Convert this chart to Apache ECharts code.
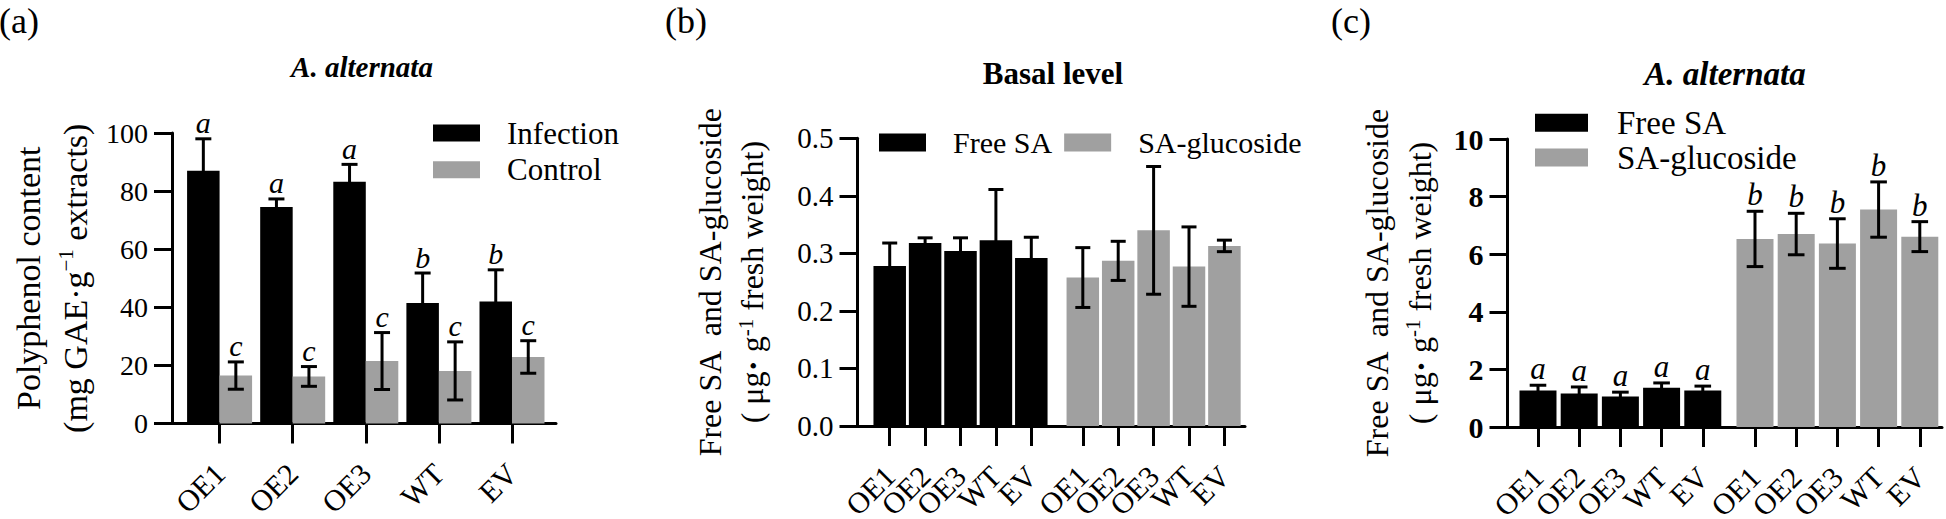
<!DOCTYPE html>
<html><head><meta charset="utf-8">
<script src="https://cdn.jsdelivr.net/npm/echarts@6/dist/echarts.min.js"></script>
<style>html,body{margin:0;padding:0;background:#fff}#c{width:1946px;height:519px}</style>
</head><body><div id="c"></div>
<script>
// ---------------- data ----------------
const categories = ['OE1', 'OE2', 'OE3', 'WT', 'EV'];

// Panel (a) polyphenol content
const aInfection    = [87.0, 74.5, 83.2, 41.5, 42.0];
const aInfectionErr = [11.0, 2.8, 6.0, 10.3, 10.9];
const aInfectionSig = ['a', 'a', 'a', 'b', 'b'];
const aControl      = [16.5, 16.2, 21.5, 18.1, 22.9];
const aControlErr   = [4.7, 3.4, 9.8, 10.0, 5.6];
const aControlSig   = ['c', 'c', 'c', 'c', 'c'];
const aYTicks = [0, 20, 40, 60, 80, 100];

// Panel (b) basal level
const bFree       = [0.278, 0.318, 0.304, 0.323, 0.292];
const bFreeErr    = [0.040, 0.009, 0.023, 0.088, 0.036];
const bGluc       = [0.258, 0.287, 0.340, 0.277, 0.313];
const bGlucErr    = [0.052, 0.034, 0.111, 0.069, 0.010];
const bYTicks = [0.0, 0.1, 0.2, 0.3, 0.4, 0.5];

// Panel (c) A. alternata
const cFree       = [1.27, 1.16, 1.06, 1.36, 1.27];
const cFreeErr    = [0.18, 0.23, 0.15, 0.17, 0.15];
const cFreeSig    = ['a', 'a', 'a', 'a', 'a'];
const cGluc       = [6.53, 6.70, 6.37, 7.55, 6.61];
const cGlucErr    = [0.96, 0.72, 0.86, 0.96, 0.52];
const cGlucSig    = ['b', 'b', 'b', 'b', 'b'];
const cYTicks = [0, 2, 4, 6, 8, 10];

// ---------------- layout constants (in category-slot units) ----------------
const FONT = "'Liberation Serif', 'Times New Roman', serif";
const LEAD_A = 0.651, SPAN_A = 5.253;
const LEAD_B = 0.910, SPAN_B = 10.947, GROUP_OFFSET_B = 5.455;
const LEAD_C = 0.740, SPAN_C = 10.546, GROUP_OFFSET_C = 5.267;

const idx = categories.map((_, i) => i);
const aPos = idx.map(i => LEAD_A + i);
const bFreePos = idx.map(i => LEAD_B + i);
const bGlucPos = idx.map(i => LEAD_B + GROUP_OFFSET_B + i);
const cFreePos = idx.map(i => LEAD_C + i);
const cGlucPos = idx.map(i => LEAD_C + GROUP_OFFSET_C + i);

function labelFor(positions, labels, v) {
  let best = -1, d = Infinity;
  positions.forEach((a, i) => { const dd = Math.abs(a - v); if (dd < d) { d = dd; best = i; } });
  return d < 1e-6 ? labels[best] : ' ';
}

// the axis ends carry hidden placeholder ticks/labels so that no real label is dropped
function makeX(gridIndex, span, positions, labels) {
  const withEnds = [0].concat(positions, [span]);
  return {
    type: 'value', gridIndex, min: 0, max: span,
    axisLine: { show: true, onZero: false, lineStyle: { color: '#000', width: 3 } },
    axisTick: { show: true, customValues: withEnds, length: 20, lineStyle: { color: '#000', width: 3 } },
    axisLabel: {
      show: true, customValues: withEnds, rotate: 45, margin: 45,
      showMinLabel: false, showMaxLabel: false, hideOverlap: false,
      fontSize: 30, lineHeight: 30, fontFamily: FONT, color: '#000',
      formatter: v => labelFor(positions, labels, v)
    },
    splitLine: { show: false }
  };
}

function makeY(gridIndex, ticks, decimals, bold, labelSize, labelMargin, name, nameSize, nameLH, nameGap, rich) {
  return {
    type: 'value', gridIndex, position: 'left', z: 10,
    min: ticks[0], max: ticks[ticks.length - 1], interval: ticks[1] - ticks[0],
    axisLine: { show: true, onZero: false, lineStyle: { color: '#000', width: 3 } },
    axisTick: { show: true, length: 18, lineStyle: { color: '#000', width: 3 } },
    axisLabel: {
      margin: labelMargin, fontSize: labelSize, fontFamily: FONT, color: '#000',
      fontWeight: bold ? 'bold' : 'normal',
      formatter: v => Number(v).toFixed(decimals)
    },
    splitLine: { show: false },
    name, nameLocation: 'middle', nameRotate: 90, nameGap, nameMoveOverlap: false,
    nameTextStyle: { fontSize: nameSize, lineHeight: nameLH, fontFamily: FONT, color: '#000', rich }
  };
}

function barSeries(name, gi, positions, values, color, width, gap) {
  return {
    type: 'bar', name, xAxisIndex: gi, yAxisIndex: gi,
    data: positions.map((x, i) => [x, values[i]]),
    barWidth: width, barGap: gap,
    itemStyle: { color },
    silent: true, z: 2
  };
}

function errSeries(name, gi, positions, values, errs, sigs, dx, capHalf, sigSize) {
  return {
    type: 'custom', name, xAxisIndex: gi, yAxisIndex: gi, z: 5, silent: true,
    data: positions.map((x, i) => [x, values[i], errs[i]]),
    encode: { x: 0, y: 1 },
    renderItem(params, api) {
      const x = api.value(0), y = api.value(1), e = api.value(2);
      const top = api.coord([x, y + e]);
      const bot = api.coord([x, y - e]);
      const cx = top[0] + dx;
      const lw = 3;
      const fill = { fill: '#000' };
      const children = [
        { type: 'rect', shape: { x: cx - lw / 2, y: top[1], width: lw, height: bot[1] - top[1] }, style: fill },
        { type: 'rect', shape: { x: cx - capHalf, y: top[1] - lw / 2, width: capHalf * 2, height: lw }, style: fill },
        { type: 'rect', shape: { x: cx - capHalf, y: bot[1] - lw / 2, width: capHalf * 2, height: lw }, style: fill }
      ];
      if (sigs) {
        children.push({
          type: 'text',
          style: {
            text: sigs[params.dataIndex], x: cx, y: top[1] - 1,
            align: 'center', verticalAlign: 'bottom',
            fontSize: sigSize, fontStyle: 'italic', fontFamily: FONT, fill: '#000'
          }
        });
      }
      return { type: 'group', children };
    }
  };
}

const BLACK = '#000000';
const GREY = '#a0a0a0';
const supRich = {
  sup: { fontSize: 21, fontFamily: FONT, color: '#000', verticalAlign: 'top', padding: [4, 0, 0, 0] },
  dot: { fontSize: 34, fontFamily: FONT, color: '#000', fontWeight: 'bold' }
};

const option = {
  animation: false,
  backgroundColor: '#fff',
  title: [
    { text: '(a)', left: -1, top: 3, padding: 0, textStyle: { fontFamily: FONT, fontSize: 36, fontWeight: 'normal', color: '#000' } },
    { text: '(b)', left: 665, top: 3, padding: 0, textStyle: { fontFamily: FONT, fontSize: 36, fontWeight: 'normal', color: '#000' } },
    { text: '(c)', left: 1331, top: 3, padding: 0, textStyle: { fontFamily: FONT, fontSize: 36, fontWeight: 'normal', color: '#000' } },
    { text: 'A. alternata', left: 362, top: 52, padding: 0, textAlign: 'center', textStyle: { fontFamily: FONT, fontSize: 29, fontWeight: 'bold', fontStyle: 'italic', color: '#000' } },
    { text: 'Basal level', left: 1053, top: 58, padding: 0, textAlign: 'center', textStyle: { fontFamily: FONT, fontSize: 31, fontWeight: 'bold', color: '#000' } },
    { text: 'A. alternata', left: 1725, top: 57, padding: 0, textAlign: 'center', textStyle: { fontFamily: FONT, fontSize: 33, fontWeight: 'bold', fontStyle: 'italic', color: '#000' } }
  ],
  legend: [
    {
      data: ['Infection', 'Control'], orient: 'vertical', left: 433, top: 117.5, padding: 0,
      itemWidth: 47, itemHeight: 17, itemGap: 5.7, icon: 'rect', selectedMode: false,
      textStyle: { fontFamily: FONT, fontSize: 31, lineHeight: 31, color: '#000', padding: [0, 0, 0, 22] }
    },
    {
      data: ['Free SA', 'SA-glucoside'], orient: 'horizontal', left: 879, top: 127.5, padding: 0,
      itemWidth: 47, itemHeight: 18, itemGap: 12, icon: 'rect', selectedMode: false,
      textStyle: { fontFamily: FONT, fontSize: 30, lineHeight: 30, color: '#000', padding: [0, 0, 0, 22] }
    },
    {
      data: ['Free SA', 'SA-glucoside'], orient: 'vertical', left: 1535, top: 106.3, padding: 0,
      itemWidth: 53, itemHeight: 18, itemGap: 1.7, icon: 'rect', selectedMode: false,
      textStyle: { fontFamily: FONT, fontSize: 33, lineHeight: 30, color: '#000', padding: [0, 0, 0, 24] }
    }
  ],
  grid: [
    { left: 172, top: 133, width: 384, height: 290.5, outerBoundsMode: 'none', containLabel: false },
    { left: 857.5, top: 138.3, width: 387.5, height: 287.7, outerBoundsMode: 'none', containLabel: false },
    { left: 1507.5, top: 139, width: 434.5, height: 288, outerBoundsMode: 'none', containLabel: false }
  ],
  xAxis: [
    makeX(0, SPAN_A, aPos, categories),
    makeX(1, SPAN_B, bFreePos.concat(bGlucPos), categories.concat(categories)),
    makeX(2, SPAN_C, cFreePos.concat(cGlucPos), categories.concat(categories))
  ],
  yAxis: [
    makeY(0, aYTicks, 0, false, 28, 24, 'Polyphenol content\n(mg GAE·g{sup|−1} extracts)', 34, 47, 73.5, supRich),
    makeY(1, bYTicks, 1, false, 29, 24, 'Free SA  and SA-glucoside\n( μg{dot|·} g{sup|-1} fresh weight)', 32, 42, 84.5, supRich),
    makeY(2, cYTicks, 0, true, 30, 24, 'Free SA  and SA-glucoside\n( μg{dot|·} g{sup|-1} fresh weight)', 32, 43, 66, supRich)
  ],
  series: [
    barSeries('Infection', 0, aPos, aInfection, BLACK, 32.5, '0%'),
    barSeries('Control', 0, aPos, aControl, GREY, 32.5, '0%'),
    errSeries('Infection error', 0, aPos, aInfection, aInfectionErr, aInfectionSig, -16.25, 8, 30),
    errSeries('Control error', 0, aPos, aControl, aControlErr, aControlSig, 16.25, 8, 30),

    barSeries('Free SA', 1, bFreePos, bFree, BLACK, 32.5, '-100%'),
    barSeries('SA-glucoside', 1, bGlucPos, bGluc, GREY, 32.5, '-100%'),
    errSeries('Free SA error (b)', 1, bFreePos, bFree, bFreeErr, null, 0, 7.5, 30),
    errSeries('SA-glucoside error (b)', 1, bGlucPos, bGluc, bGlucErr, null, 0, 7.5, 30),

    barSeries('Free SA', 2, cFreePos, cFree, BLACK, 37, '-100%'),
    barSeries('SA-glucoside', 2, cGlucPos, cGluc, GREY, 37, '-100%'),
    errSeries('Free SA error (c)', 2, cFreePos, cFree, cFreeErr, cFreeSig, 0, 8.3, 31),
    errSeries('SA-glucoside error (c)', 2, cGlucPos, cGluc, cGlucErr, cGlucSig, 0, 8.3, 31)
  ]
};

const chart = echarts.init(document.getElementById('c'), null, { renderer: 'svg', width: 1946, height: 519 });
chart.setOption(option);
</script>
</body></html>
